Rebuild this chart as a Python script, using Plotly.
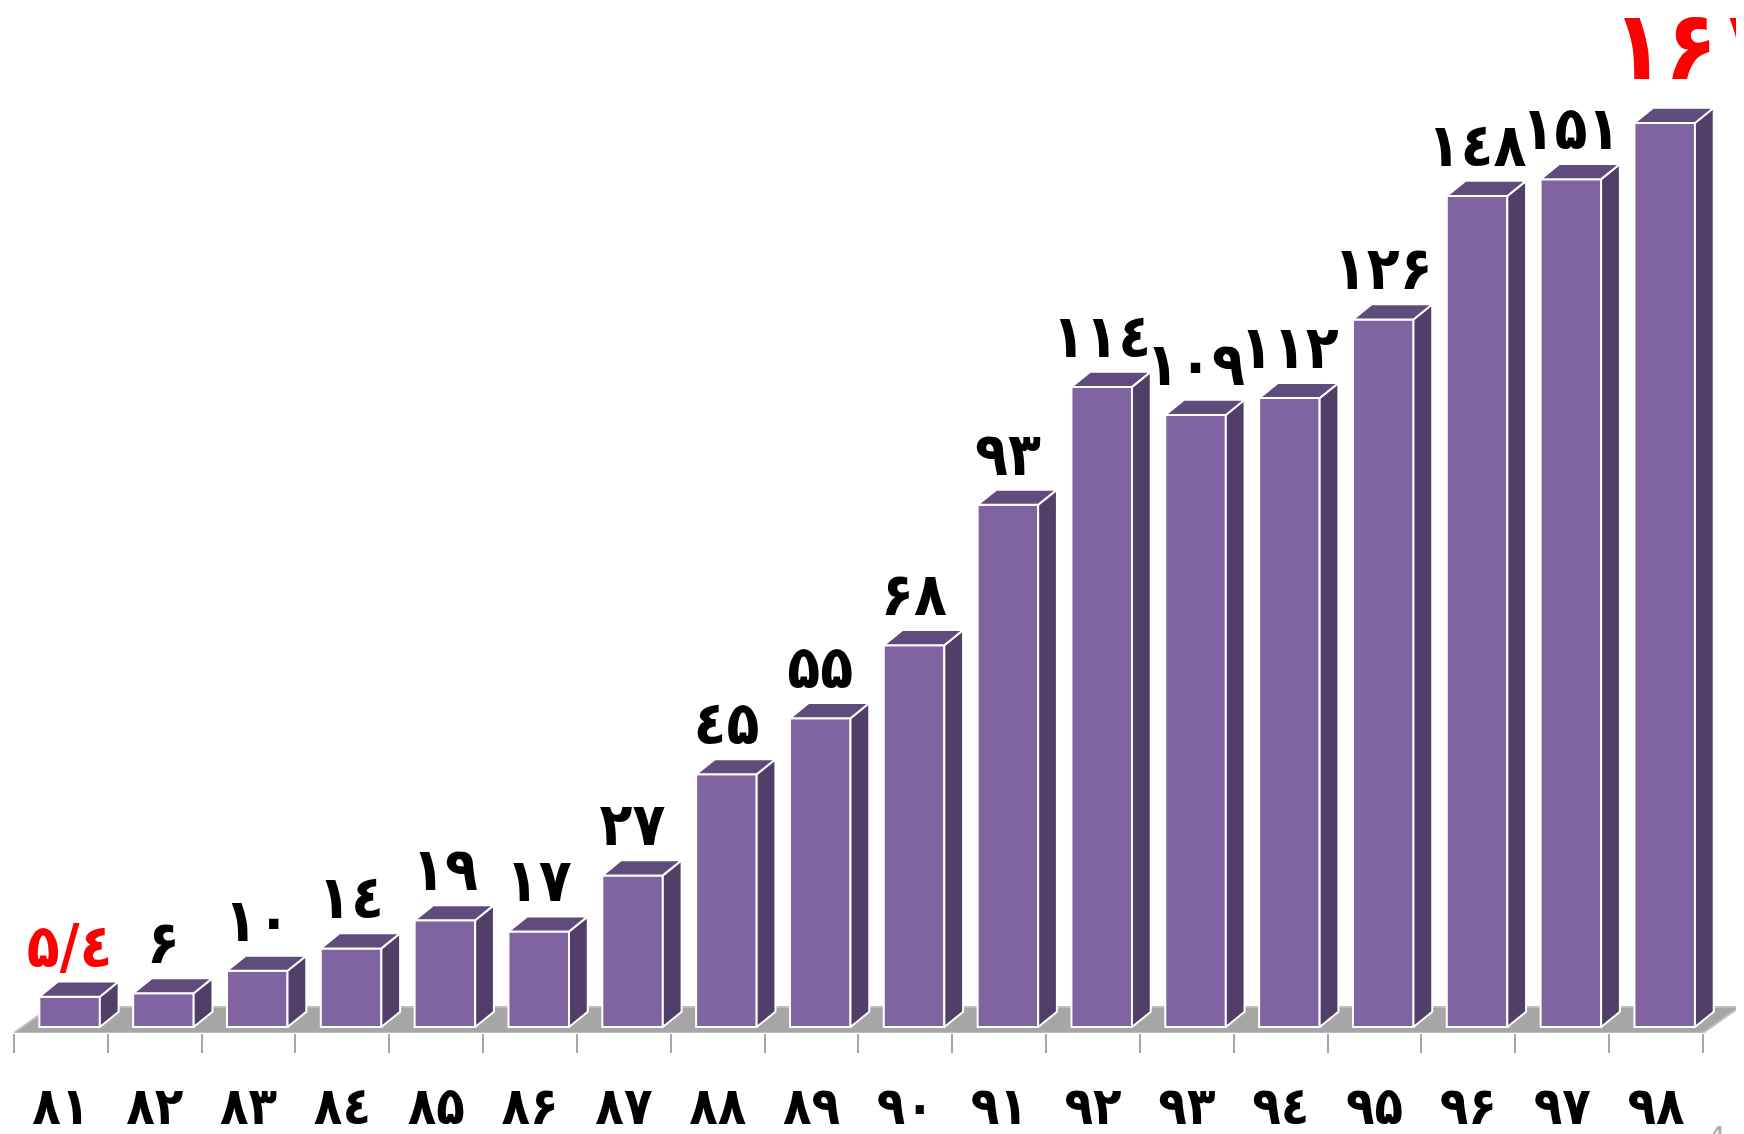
import plotly.graph_objects as go

# ---- data ----
YEARS = ["81", "82", "83", "84", "85", "86", "87", "88", "89",
         "90", "91", "92", "93", "94", "95", "96", "97", "98"]
VALUES = [5.4, 6, 10, 14, 19, 17, 27, 45, 55, 68, 93, 114, 109, 112, 126, 148, 151, 161]
RED_IDX = [0, 17]          # highlighted labels (first and last)

DIGITS = {"0": "۰", "1": "۱", "2": "۲", "3": "۳", "4": "٤", "5": "۵",
          "6": "۶", "7": "۷", "8": "۸", "9": "۹", ".": "/"}


def fa(s):
    return "\u202d" + "".join(DIGITS[c] for c in s) + "\u202c"


# ---- style / geometry ----
FRONT = "#8064a2"
TOP = "#604c7c"
SIDE = "#513f69"
FLOOR = "#a6a6a6"
OFF = -0.23      # bar start relative to category centre
W = 0.645        # bar width
DX = 0.20        # depth in x (category units)
DY = 2.7         # depth in y (value units)
FONT = "DejaVu Sans Condensed, DejaVu Sans"

n = len(VALUES)
xs = list(range(n))

fig = go.Figure()

# front faces
fig.add_trace(go.Bar(
    x=xs, y=VALUES, offset=OFF, width=W,
    marker=dict(color=FRONT, line=dict(color="white", width=2)),
    hoverinfo="skip", showlegend=False))

# side and top faces (derived from values)
sx, sy, tx, ty = [], [], [], []
for i, v in enumerate(VALUES):
    L = i + OFF
    R = L + W
    sx += [R, R + DX, R + DX, R, R, None]
    sy += [0, DY, v + DY, v, 0, None]
    tx += [L, R, R + DX, L + DX, L, None]
    ty += [v, v, v + DY, v + DY, v, None]
fig.add_trace(go.Scatter(x=sx, y=sy, mode="lines", fill="toself", fillcolor=SIDE,
                         line=dict(color="white", width=2), hoverinfo="skip",
                         showlegend=False))
fig.add_trace(go.Scatter(x=tx, y=ty, mode="lines", fill="toself", fillcolor=TOP,
                         line=dict(color="white", width=2), hoverinfo="skip",
                         showlegend=False))

# value labels
lab_idx = [i for i in range(n) if i != n - 1]
fig.add_trace(go.Scatter(
    x=[i + OFF + W / 2 for i in lab_idx],
    y=[VALUES[i] + DY for i in lab_idx],
    mode="text",
    text=[fa(f"{VALUES[i]:g}") for i in lab_idx],
    textposition="top center",
    textfont=dict(family=FONT, size=60, weight="bold",
                  color=["#ff0000" if i in RED_IDX else "#000000" for i in lab_idx]),
    cliponaxis=False, hoverinfo="skip", showlegend=False))

# last (highlighted, larger) label
last = n - 1
fig.add_annotation(x=last + OFF, y=VALUES[last] + DY, xref="x", yref="y",
                   text=fa(f"{VALUES[last]:g}"), showarrow=False,
                   xanchor="left", yanchor="bottom", xshift=-24, yshift=4,
                   font=dict(family=FONT, size=96, weight="bold", color="#ff0000"))

# floor (decorative, below the bars)
YF, YB, FDX = -1.07, 3.56, 0.39
fig.add_shape(type="path", xref="x", yref="y", layer="below",
              path=f"M {-0.5},{YF} L {n - 0.5},{YF} L {n - 0.5 + FDX},{YB} "
                   f"L {-0.5 + FDX},{YB} Z",
              fillcolor=FLOOR, line=dict(color="#bdbdbd", width=2))

# slide number remnant
fig.add_annotation(x=0.984, y=-0.083, xref="paper", yref="paper", text="4",
                   showarrow=False, xanchor="center", yanchor="top",
                   font=dict(family="DejaVu Sans", size=30, color="#b0b0b0"))

# the page body adds an 8px margin, so the figure is 8px smaller than the window
fig.update_layout(
    width=1736, height=1126,
    margin=dict(l=6, r=0, t=0, b=101, autoexpand=False),
    paper_bgcolor="white", plot_bgcolor="white",
    showlegend=False,
    xaxis=dict(range=[-0.5, -0.5 + 1730 / 93.83], automargin=False,
               tickmode="array", tickvals=xs, ticktext=[fa(y) for y in YEARS],
               ticks="", ticklen=0, showgrid=False, zeroline=False, showline=False,
               tickfont=dict(family=FONT, size=52, weight="bold", color="#000000"),
               ticklabelstandoff=38,
               minor=dict(tickmode="array", tickvals=[i - 0.5 for i in range(n + 1)],
                          ticks="outside", ticklen=19, tickwidth=2, tickcolor=FLOOR,
                          showgrid=False)),
    yaxis=dict(range=[-1.07, -1.07 + 1025 / 5.615], visible=False, showgrid=False,
               zeroline=False, automargin=False),
)

fig.write_html("out.html")
